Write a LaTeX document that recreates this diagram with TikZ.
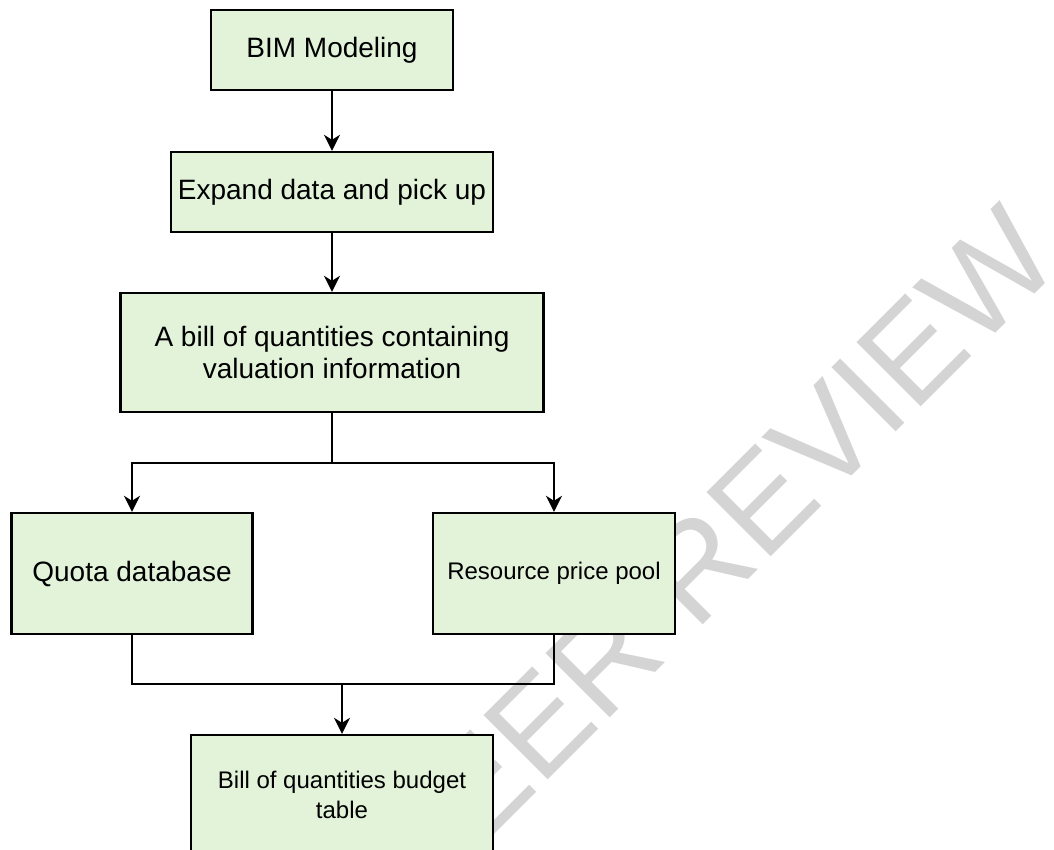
\documentclass[tikz,border=0pt]{standalone}
\usepackage{fontspec}
\setmainfont{Liberation Sans}
\usetikzlibrary{arrows.meta}
\definecolor{boxgreen}{RGB}{226,243,218}

\begin{document}
\begin{tikzpicture}
	[
	x=0.5pt, y=-0.5pt,
	every node/.style={font=\fontsize{14}{16}\selectfont},
	block/.style={draw=black, line width=1.2pt, fill=boxgreen, align=center, inner sep=0pt},
	smallblock/.style={block, font=\fontsize{12}{15}\selectfont},
	arrow/.style={-{Stealth[length=8pt,width=8pt,inset=2.5pt]}, line width=0.9pt},
	link/.style={line width=0.9pt}
	]
	\useasboundingbox (0,0) rectangle (1054,850);
	\node[rotate=45, text=black!17, font=\fontsize{66}{66}\selectfont] (stamp) at (708,556) {PEER REVIEW};
	
	\node[block, minimum width=121pt, minimum height=40pt] (bim) at (332,50) {BIM Modeling};
	\node[block, minimum width=161pt, minimum height=40pt] (expand) at (332,192) {Expand data and pick up};
	\node[block, minimum width=211.5pt, minimum height=59.5pt] (bill) at (332,352.5) {A bill of quantities containing\\valuation information};
	\node[block, minimum width=120.5pt, minimum height=60.5pt] (quota) at (132,573.5) {Quota database};
	\node[smallblock, minimum width=121pt, minimum height=60.5pt] (resource) at (554,573.5) {Resource price pool};
	\node[smallblock, minimum width=151pt, minimum height=60pt] (budget) at (342,795) {Bill of quantities budget\\table};
	
	\coordinate (split) at (332,463);
	\coordinate (merge) at (342,684);
	
	\draw[arrow] (bim) -- (expand);
	\draw[arrow] (expand) -- (bill);
	\draw[link] (bill) -- (split);
	\draw[arrow] (split) -| (quota);
	\draw[arrow] (split) -| (resource);
	\draw[link] (quota) -- (quota.south |- merge) -- (resource.south |- merge) -- (resource);
	\draw[arrow] (merge) -- (budget);
\end{tikzpicture}
\end{document}
